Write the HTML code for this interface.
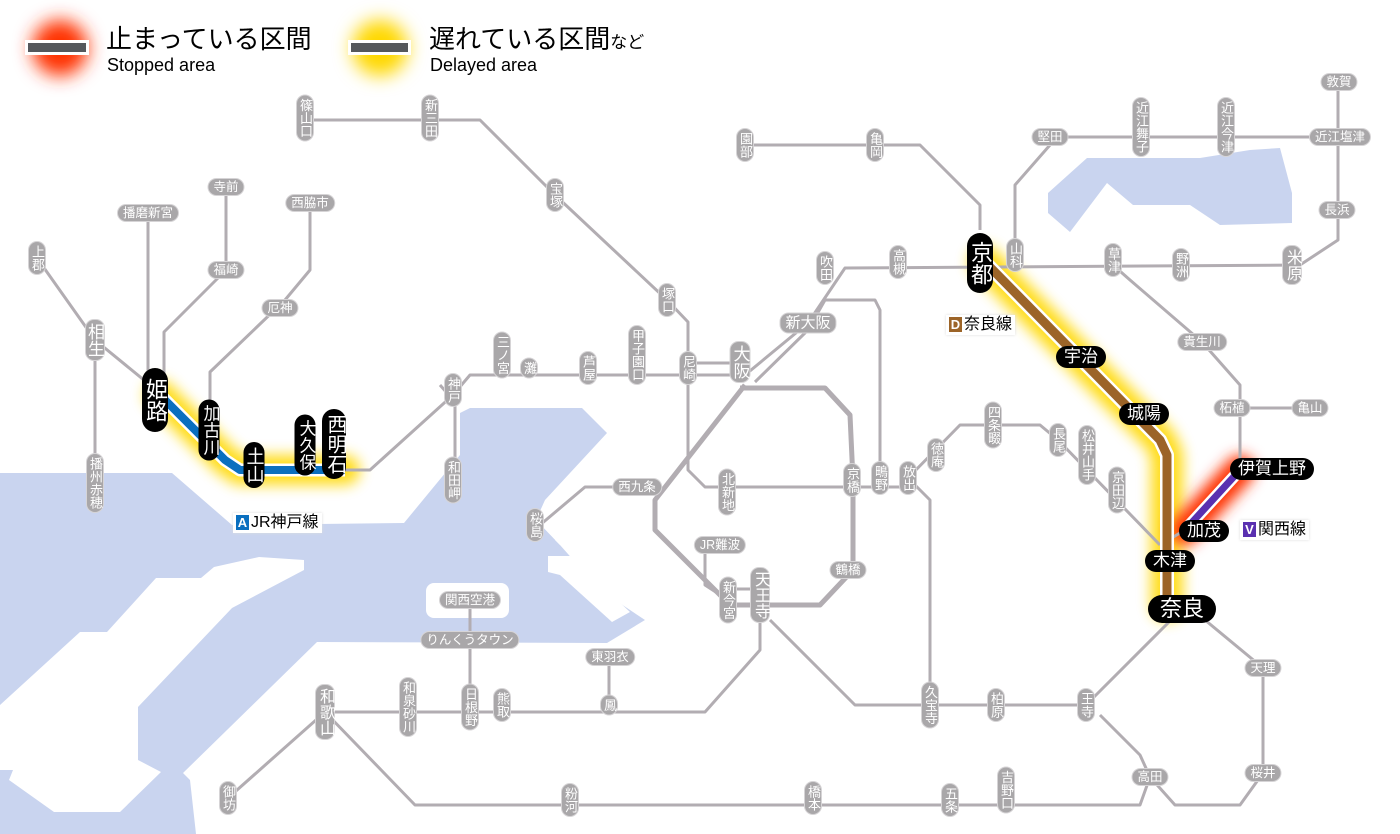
<!DOCTYPE html>
<html><head><meta charset="utf-8">
<style>
body{margin:0;background:#fff;}
#w{position:relative;width:1400px;height:834px;overflow:hidden;font-family:"Liberation Sans","Noto Sans CJK JP",sans-serif;}
svg{position:absolute;left:0;top:0;}
.v,.h,.bv,.bh{position:absolute;transform:translate(-50%,-50%);color:#fff;text-align:center;white-space:nowrap;}
.v{writing-mode:vertical-rl;text-orientation:upright;background:#a9a7a9;border-radius:8px;font-size:13px;line-height:16px;width:16px;padding:3px 0;letter-spacing:0;box-shadow:0 0 0 1px #d6d4d6;}
.h{background:#a9a7a9;border-radius:8px;font-size:12.5px;line-height:16px;height:16px;padding:0 5px;box-shadow:0 0 0 1px #d6d4d6;}
.bv{writing-mode:vertical-rl;text-orientation:upright;background:#000;border-radius:13px;font-size:20px;line-height:24px;width:24px;padding:6px 0;}
.bh{background:#000;border-radius:11px;font-size:17px;line-height:22px;height:22px;padding:0 8px;}
.lab{position:absolute;font-size:16px;color:#000;background:#fff;padding:1px 3px;line-height:18px;box-shadow:0 0 3px #ddd;}
.lab b{display:inline-block;color:#fff;font-weight:bold;font-size:13px;line-height:15px;width:13px;text-align:center;margin-right:2px;}
</style></head><body><div id="w">
<svg width="1400" height="834" viewBox="0 0 1400 834">
<defs>
<filter id="blur" x="-50%" y="-50%" width="200%" height="200%"><feGaussianBlur stdDeviation="7"/></filter>
<filter id="blur2" x="-50%" y="-50%" width="200%" height="200%"><feGaussianBlur stdDeviation="9"/></filter>
</defs>
<g fill="#c9d4ef">
<polygon points="0,473 172,473 232,525 404,523 460,455 460,413 470,408 582,408 607,433 545,500 536,520 560,545 600,590 645,620 607,643 317,642 183,773 190,780 196,834 0,834"/>
<polygon points="1048,193 1087,158 1200,158 1250,150 1280,148 1292,193 1292,223 1220,225 1190,205 1133,205 1107,183 1070,232 1048,213"/>
</g>
<g fill="#fff">
<polygon points="259,557 304,560 304,570 232,608 138,707 138,760 161,772 120,812 54,812 9,780 13,770 0,770 0,705 80,632 107,632 156,578 201,578 214,567"/>
<rect x="426" y="583" width="83" height="35" rx="8"/>
<polygon points="548,556 570,556 630,612 612,622 560,575 548,572"/>
<polygon points="567,520 575,512 560,545 555,540"/>
</g>
<g fill="none" stroke-linecap="round" stroke-linejoin="round">
<polyline points="160,395 225,460 240,470 345,470" stroke="#ffd800" stroke-width="30" filter="url(#blur)" opacity="0.9"/>
<polyline points="985,262 1160,440 1167,455 1167,605" stroke="#ffd800" stroke-width="32" filter="url(#blur)" opacity="0.9"/>
<polyline points="1240,470 1185,530" stroke="#ff3000" stroke-width="30" filter="url(#blur)"/>
<circle cx="60" cy="48" r="28" fill="#ff3000" stroke="none" filter="url(#blur2)"/>
<circle cx="380" cy="48" r="28" fill="#ffd800" stroke="none" filter="url(#blur2)"/>
</g>
<g fill="none" stroke="#b2adb2" stroke-width="3" stroke-linejoin="round">
<polyline points="305,120 480,120 555,195 667,300 688,322 688,470 705,487 910,487"/>
<polyline points="37,258 95,340 150,385"/>
<polyline points="95,340 95,483"/>
<polyline points="148,213 148,380"/>
<polyline points="226,187 226,270 164,332 164,380"/>
<polyline points="310,203 310,270 285,300 210,372 210,410"/>
<polyline points="345,470 370,470 453,395 470,375 740,375"/>
<polyline points="688,363 740,363"/>
<polyline points="440,385 455,402 455,480"/>
<polyline points="745,375 808,323 845,268 1300,265 1338,240 1338,82"/>
<polyline points="755,382 808,330 825,300 875,300 880,310 880,480"/>
<polyline points="980,230 980,205 920,145 745,145"/>
<polyline points="1015,265 1015,185 1050,145 1050,137 1340,137"/>
<polyline points="1113,265 1130,280 1202,342 1240,385 1240,470"/>
<polyline points="1232,408 1310,408"/>
<polyline points="1160,545 1185,530"/>
<polyline points="1182,609 1086,705"/>
<polyline points="1205,620 1263,668 1263,773 1240,805 1175,805 1150,777"/>
<polyline points="1150,777 1140,755 1100,715"/>
<polyline points="1150,777 1140,805 415,805 325,712"/>
<polyline points="325,712 228,798"/>
<polyline points="325,712 705,712 760,650 760,620"/>
<polyline points="609,657 609,712"/>
<polyline points="470,600 470,712"/>
<polyline points="770,620 855,705 1086,705"/>
<polyline points="908,478 930,500 930,705"/>
<polyline points="908,478 960,425 1040,425 1058,440 1160,545"/>
<polyline points="637,487 585,487 540,525"/>
<polyline points="705,545 705,585 728,600"/>
<polyline points="728,589 760,589"/>
</g>
<polyline points="740,388 825,388 850,415 853,480 853,570 820,605 730,605 655,530 655,500 745,385" fill="none" stroke="#b2adb2" stroke-width="5" stroke-linejoin="round"/>
<g fill="none" stroke-linejoin="round">
<polyline points="160,395 225,460 240,470 345,470" stroke="#fff" stroke-width="13"/>
<polyline points="160,395 225,460 240,470 345,470" stroke="#0a6fbf" stroke-width="8"/>
<polyline points="985,262 1160,440 1167,455 1167,605" stroke="#fff" stroke-width="14"/>
<polyline points="985,262 1160,440 1167,455 1167,605" stroke="#9c6428" stroke-width="9"/>
<polyline points="1240,470 1185,530" stroke="#fff" stroke-width="12"/>
<polyline points="1240,470 1185,530" stroke="#5a30b0" stroke-width="7"/>
</g>
<rect x="25" y="40" width="64" height="15" fill="#fff"/><rect x="28" y="43" width="58" height="9" fill="#55585c"/>
<rect x="348" y="40" width="63" height="15" fill="#fff"/><rect x="351" y="43" width="57" height="9" fill="#55585c"/>
</svg>
<div style="position:absolute;left:106px;top:24px;font-size:26px;line-height:30px;">止まっている区間</div>
<div style="position:absolute;left:107px;top:55px;font-size:18px;line-height:20px;">Stopped area</div>
<div style="position:absolute;left:429px;top:24px;font-size:26px;line-height:30px;">遅れている区間<span style="font-size:17px">など</span></div>
<div style="position:absolute;left:430px;top:55px;font-size:18px;line-height:20px;">Delayed area</div>

<div class="v" style="left:305px;top:118px">篠山口</div>
<div class="v" style="left:430px;top:118px">新三田</div>
<div class="v" style="left:555px;top:195px">宝塚</div>
<div class="v" style="left:667px;top:300px">塚口</div>
<div class="v" style="left:688px;top:368px">尼崎</div>
<div class="v" style="left:637px;top:355px">甲子園口</div>
<div class="v" style="left:588px;top:368px">芦屋</div>
<div class="v" style="left:529px;top:368px">灘</div>
<div class="v" style="left:502px;top:355px">三ノ宮</div>
<div class="v" style="left:453px;top:390px">神戸</div>
<div class="v" style="left:453px;top:480px">和田岬</div>
<div class="v" style="left:37px;top:258px">上郡</div>
<div class="v" style="left:95px;top:340px;font-size:17px;line-height:20px;width:18px">相生</div>
<div class="v" style="left:95px;top:483px">播州赤穂</div>
<div class="h" style="left:148px;top:213px">播磨新宮</div>
<div class="h" style="left:226px;top:187px">寺前</div>
<div class="h" style="left:226px;top:270px">福崎</div>
<div class="h" style="left:310px;top:203px">西脇市</div>
<div class="h" style="left:280px;top:308px">厄神</div>
<div class="v" style="left:745px;top:145px">園部</div>
<div class="v" style="left:875px;top:145px">亀岡</div>
<div class="v" style="left:825px;top:268px">吹田</div>
<div class="v" style="left:898px;top:262px">高槻</div>
<div class="h" style="left:808px;top:323px;font-size:15px;height:19px;line-height:19px">新大阪</div>
<div class="v" style="left:740px;top:362px;font-size:17px;line-height:19px;width:19px">大阪</div>
<div class="h" style="left:637px;top:487px">西九条</div>
<div class="v" style="left:535px;top:525px">桜島</div>
<div class="v" style="left:727px;top:492px">北新地</div>
<div class="v" style="left:852px;top:480px">京橋</div>
<div class="v" style="left:880px;top:478px">鴫野</div>
<div class="v" style="left:908px;top:478px">放出</div>
<div class="v" style="left:936px;top:455px">徳庵</div>
<div class="v" style="left:993px;top:425px">四条畷</div>
<div class="v" style="left:1058px;top:440px">長尾</div>
<div class="v" style="left:1087px;top:455px">松井山手</div>
<div class="v" style="left:1117px;top:490px">京田辺</div>
<div class="h" style="left:720px;top:545px">JR難波</div>
<div class="v" style="left:728px;top:600px">新今宮</div>
<div class="v" style="left:760px;top:595px;font-size:16px;line-height:18px;width:18px">天王寺</div>
<div class="h" style="left:848px;top:570px">鶴橋</div>
<div class="h" style="left:470px;top:600px">関西空港</div>
<div class="h" style="left:470px;top:640px">りんくうタウン</div>
<div class="h" style="left:610px;top:657px">東羽衣</div>
<div class="v" style="left:609px;top:705px">鳳</div>
<div class="v" style="left:502px;top:705px">熊取</div>
<div class="v" style="left:470px;top:707px">日根野</div>
<div class="v" style="left:408px;top:707px">和泉砂川</div>
<div class="v" style="left:325px;top:712px;font-size:16px;line-height:18px;width:18px">和歌山</div>
<div class="v" style="left:228px;top:798px">御坊</div>
<div class="v" style="left:570px;top:800px">粉河</div>
<div class="v" style="left:813px;top:798px">橋本</div>
<div class="v" style="left:950px;top:800px">五条</div>
<div class="v" style="left:1006px;top:790px">吉野口</div>
<div class="v" style="left:930px;top:705px">久宝寺</div>
<div class="v" style="left:996px;top:705px">柏原</div>
<div class="v" style="left:1086px;top:705px">王寺</div>
<div class="h" style="left:1150px;top:777px">高田</div>
<div class="h" style="left:1263px;top:773px">桜井</div>
<div class="h" style="left:1263px;top:668px">天理</div>
<div class="h" style="left:1050px;top:137px">堅田</div>
<div class="v" style="left:1141px;top:127px">近江舞子</div>
<div class="v" style="left:1226px;top:127px">近江今津</div>
<div class="h" style="left:1340px;top:137px">近江塩津</div>
<div class="h" style="left:1339px;top:82px">敦賀</div>
<div class="h" style="left:1337px;top:210px">長浜</div>
<div class="v" style="left:1292px;top:265px;font-size:16px;line-height:18px;width:18px">米原</div>
<div class="v" style="left:1181px;top:265px">野洲</div>
<div class="v" style="left:1113px;top:260px">草津</div>
<div class="v" style="left:1015px;top:255px">山科</div>
<div class="h" style="left:1202px;top:342px">貴生川</div>
<div class="h" style="left:1232px;top:408px">柘植</div>
<div class="h" style="left:1310px;top:408px">亀山</div>

<div class="bv" style="left:155px;top:400px;font-size:22px;line-height:26px;width:26px;padding:10px 0">姫路</div>
<div class="bv" style="left:209px;top:430px;font-size:17px;line-height:19px;width:21px;padding:5px 0">加古川</div>
<div class="bv" style="left:254px;top:465px;font-size:18px;line-height:20px;width:21px;padding:5px 0">土山</div>
<div class="bv" style="left:305px;top:445px;font-size:17px;line-height:19px;width:21px;padding:5px 0">大久保</div>
<div class="bv" style="left:334px;top:444px;font-size:20px;line-height:22px;width:24px;padding:5px 0">西明石</div>
<div class="bv" style="left:980px;top:263px;font-size:22px;line-height:25px;width:26px;padding:8px 0">京都</div>
<div class="bh" style="left:1081px;top:357px">宇治</div>
<div class="bh" style="left:1144px;top:414px">城陽</div>
<div class="bh" style="left:1272px;top:469px">伊賀上野</div>
<div class="bh" style="left:1204px;top:531px">加茂</div>
<div class="bh" style="left:1170px;top:561px">木津</div>
<div class="bh" style="left:1182px;top:609px;font-size:22px;height:28px;line-height:28px;border-radius:14px;padding:0 12px">奈良</div>

<div class="lab" style="left:233px;top:513px"><b style="background:#0a6fbf">A</b>JR神戸線</div>
<div class="lab" style="left:946px;top:315px"><b style="background:#9c6428">D</b>奈良線</div>
<div class="lab" style="left:1240px;top:520px"><b style="background:#5a30b0">V</b>関西線</div>
</div></body></html>
